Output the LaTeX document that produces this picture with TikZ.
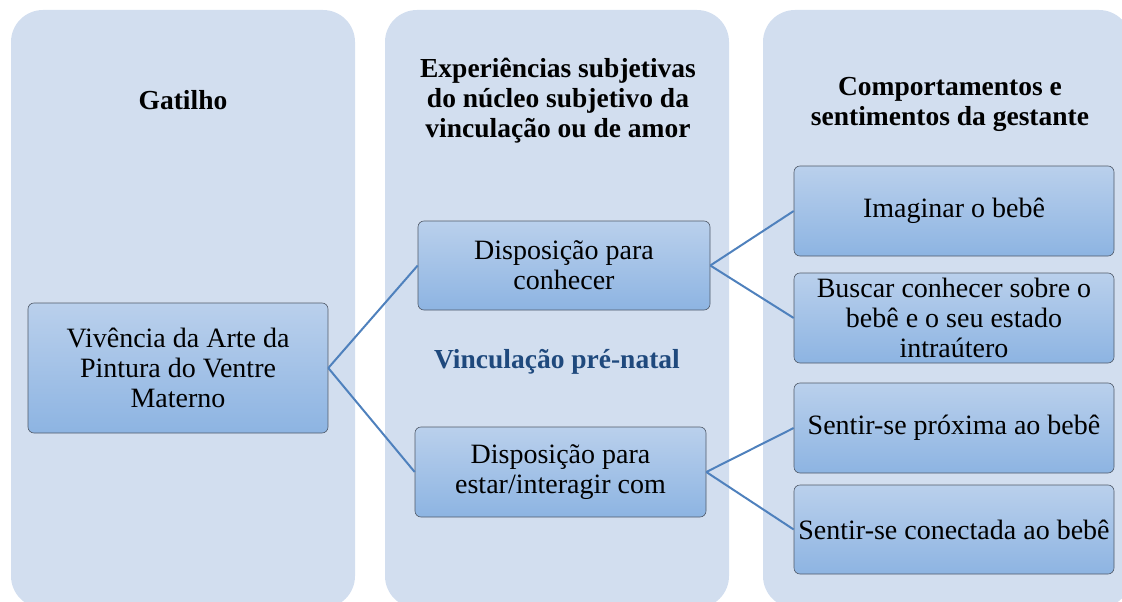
\documentclass[tikz,border=0pt]{standalone}
\usepackage{fontspec}
\setmainfont{Liberation Serif}
\definecolor{panelfill}{RGB}{210,222,239}
\definecolor{boxtop}{RGB}{186,208,236}
\definecolor{boxbot}{RGB}{141,180,226}
\definecolor{boxline}{RGB}{80,90,105}
\definecolor{linkcol}{RGB}{79,129,189}
\definecolor{darkblue}{RGB}{31,73,125}
\begin{document}
\begin{tikzpicture}[x=1pt,y=-1pt,
  panel/.style={fill=panelfill, draw=none, rounded corners=32pt},
  box/.style={draw=boxline, line width=0.6pt, rounded corners=6pt, top color=boxtop, bottom color=boxbot,
    align=center, inner sep=0pt, font=\fontsize{28}{30}\selectfont},
  title/.style={align=center, inner sep=0pt, font=\fontsize{27.5}{30}\selectfont\bfseries},
  link/.style={draw=linkcol, line width=2pt}]
\useasboundingbox (0,0) rectangle (1122,602);
\clip (0,0) rectangle (1122,602);
% panels
\path[panel] (11,10) rectangle (355,608);
\path[panel] (385,10) rectangle (729,608);
\path[panel] (763,10) rectangle (1131,608);
% titles
\node[title] (t1) at (183,100) {Gatilho};
\node[title] (t2) at (558,101) {Experiências subjetivas\\do núcleo subjetivo da\\vinculação ou de amor};
\node[title] (t3) at (950,104) {Comportamentos e\\sentimentos da gestante};
\node[title, text=darkblue] (vpn) at (557,362) {Vinculação pré-natal};
% boxes
\node[box, minimum width=300pt, minimum height=130pt] (viv) at (178,368) {Vivência da Arte da\\Pintura do Ventre\\Materno};
\node[box, minimum width=292pt, minimum height=89pt] (dc) at (564,265.5) {Disposição para\\conhecer};
\node[box, minimum width=291pt, minimum height=90pt] (de) at (560.5,472) {Disposição para\\estar/interagir com};
\node[box, minimum width=320pt, minimum height=90pt] (im) at (954,211) {Imaginar o bebê};
\node[box, minimum width=320pt, minimum height=90pt] (bc) at (954,318) {Buscar conhecer sobre o\\bebê e o seu estado\\intraútero};
\node[box, minimum width=320pt, minimum height=90pt] (sp) at (954,428) {Sentir-se próxima ao bebê};
\node[box, minimum width=320pt, minimum height=89pt] (sc) at (954,529.5) {Sentir-se conectada ao bebê};
% links
\draw[link] (viv.east) -- (dc.west);
\draw[link] (viv.east) -- (de.west);
\draw[link] (dc.east) -- (im.west);
\draw[link] (dc.east) -- (bc.west);
\draw[link] (de.east) -- (sp.west);
\draw[link] (de.east) -- (sc.west);
\end{tikzpicture}
\end{document}
